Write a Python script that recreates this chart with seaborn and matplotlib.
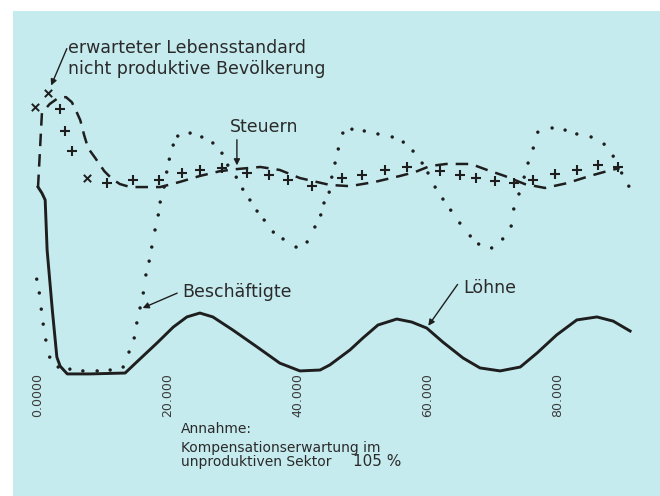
import matplotlib
matplotlib.use('Agg')
import matplotlib.pyplot as plt
import seaborn as sns

# Löhne (solid line)
loehne_x = [0.0, 0.6, 1.1, 1.4, 2.2, 2.9, 3.4, 4.5, 8.0, 13.4, 15.2, 18.3, 20.8, 22.9, 24.9, 26.9,
            30.0, 33.7, 37.2, 40.3, 43.4, 44.9, 48.0, 50.0, 52.3, 55.2, 57.5, 59.8, 62.3, 65.4, 68.0, 71.1,
            74.2, 76.8, 79.8, 82.9, 86.0, 88.5, 91.1]
loehne_y = [71.0, 69.0, 66.7, 50.0, 30.0, 14.3, 11.3, 8.7, 8.7, 9.0, 12.7, 19.0, 24.3, 27.7, 29.0, 27.7,
            23.3, 17.7, 12.3, 9.7, 10.0, 11.7, 16.7, 20.7, 25.0, 27.0, 26.0, 24.0, 19.3, 14.0, 10.7, 9.7,
            11.0, 15.7, 21.7, 26.7, 27.7, 26.3, 23.0]

# nicht produktive Bevölkerung (dashed line)
bev_x = [0.0, 0.3, 0.6, 1.8, 3.1, 4.3, 5.2, 5.8, 6.5, 7.1, 7.7, 8.8, 10.2, 11.4, 12.6, 14.2,
         18.8, 21.8, 24.9, 28.0, 30.6, 34.2, 37.2, 40.3, 44.9, 48.0, 51.8, 55.7, 58.0, 60.3, 62.8, 66.6,
         69.1, 71.8, 74.9, 78.0, 81.4, 84.9, 88.2, 89.5]
bev_y = [71.0, 83.3, 95.7, 98.7, 100.7, 101.0, 99.3, 96.7, 93.3, 88.3, 84.0, 80.7, 76.3, 73.7, 72.0, 71.0,
         71.0, 72.7, 74.7, 76.3, 77.0, 77.7, 76.7, 74.0, 71.7, 71.3, 72.7, 74.7, 76.0, 78.0, 78.7, 78.7,
         76.7, 74.7, 72.0, 70.7, 72.3, 74.7, 76.7, 77.3]

# Steuern (+ markers)
steuern_x = [3.4, 4.2, 5.2, 10.6, 14.6, 18.6, 22.2, 24.9, 28.3, 32.2, 35.5, 38.5, 42.2, 46.8,
             49.8, 53.4, 56.8, 61.8, 64.9, 67.4, 70.3, 73.2, 76.2, 79.5, 82.9, 86.2, 89.2]
steuern_y = [97.0, 89.7, 83.0, 72.3, 73.3, 73.3, 75.7, 76.7, 77.3, 75.7, 75.0, 73.3, 71.3, 74.0,
             75.0, 76.7, 77.7, 76.3, 75.0, 74.0, 73.0, 72.3, 73.3, 75.3, 76.7, 78.3, 77.7]

# erwarteter Lebensstandard (x markers, visible points only)
leben_x = [-0.5, 1.5, 7.5]
leben_y = [97.7, 102.3, 74.0]

# Beschäftigte (dots)
besch_x = [-0.2, 0.2, 0.5, 0.8, 1.2, 1.8, 3.1, 4.9, 6.9, 9.1,
           11.1, 13.1, 14.0, 14.8, 15.2, 15.7, 16.2, 16.6, 17.1, 17.5,
           18.0, 18.5, 18.8, 19.4, 19.8, 20.2, 20.8, 21.5, 23.4, 25.2,
           26.9, 28.3, 29.2, 30.5, 31.5, 32.6, 33.7, 34.8, 36.2, 37.7,
           39.7, 41.4, 42.6, 43.5, 44.0, 44.8, 45.2, 45.7, 46.2, 46.9,
           48.3, 50.2, 52.3, 54.5, 56.2, 57.7, 59.1, 60.0, 61.1, 62.3,
           63.5, 64.9, 66.5, 67.8, 69.8, 71.5, 72.8, 73.2, 74.0, 74.8,
           75.4, 76.2, 76.9, 79.1, 81.1, 82.9, 85.1, 87.1, 88.5, 89.8,
           90.9]
besch_y = [40.3, 35.7, 30.3, 25.3, 20.0, 14.3, 11.0, 10.3, 9.7, 9.7,
           10.0, 11.0, 16.0, 20.7, 25.7, 30.7, 35.7, 41.7, 46.3, 51.0,
           56.7, 61.7, 66.0, 71.0, 76.0, 80.3, 85.0, 88.0, 89.0, 87.7,
           85.7, 82.3, 78.3, 74.3, 70.3, 66.7, 63.0, 60.0, 56.0, 53.7,
           51.0, 52.7, 57.7, 61.7, 65.7, 69.3, 74.3, 79.0, 83.7, 89.0,
           90.3, 89.7, 88.7, 87.7, 86.0, 83.0, 79.0, 75.7, 71.0, 67.0,
           63.3, 59.0, 54.7, 52.0, 50.7, 53.7, 58.0, 63.7, 68.7, 74.3,
           79.0, 84.0, 89.3, 90.7, 90.0, 88.7, 87.7, 85.3, 81.3, 75.7,
           71.3]

tick_values = [0, 20, 40, 60, 80]
tick_labels = ["0.0000", "20.000", "40.000", "60.000", "80.000"]

ink = '#1e1e1e'
paper = '#c6ebee'

fig = plt.figure(figsize=(6.6, 4.96), dpi=100, facecolor='white')
ax = fig.add_axes([13 / 660, 0, 647 / 660, 485 / 496])
ax.set_facecolor(paper)

sns.lineplot(x=loehne_x, y=loehne_y, ax=ax, color=ink, linewidth=2.1,
             sort=False, estimator=None)
sns.lineplot(x=bev_x, y=bev_y, ax=ax, color=ink, linewidth=1.8,
             linestyle=(0, (5, 3.2)), sort=False, estimator=None)
sns.scatterplot(x=besch_x, y=besch_y, ax=ax, color=ink, s=6, marker='o',
                edgecolor='none')
sns.scatterplot(x=steuern_x, y=steuern_y, ax=ax, color=ink, s=45, marker='+',
                linewidth=1.5)
sns.scatterplot(x=leben_x, y=leben_y, ax=ax, color=ink, s=28, marker='x',
                linewidth=1.4)

ax.set_xlim(-3.85, 95.7)
ax.set_ylim(-32, 129.7)
for s in ax.spines.values():
    s.set_visible(False)
ax.set_yticks([])
ax.set_xticks(tick_values)
ax.set_xticklabels(tick_labels, rotation=90, fontsize=9, color='#3a3a3a')
ax.tick_params(axis='x', length=0, pad=-88.6)

txt = dict(color='#2a2a2a', fontsize=12.5, va='baseline', ha='left')
ax.text(4.6, 115.7, "erwarteter Lebensstandard", **txt)
ax.text(4.6, 108.7, "nicht produktive Bevölkerung", **txt)
ax.text(29.5, 89.3, "Steuern", **txt)
ax.text(22.2, 34.3, "Beschäftigte", **txt)
ax.text(65.4, 35.7, "Löhne", **txt)

small = dict(color='#2a2a2a', fontsize=10, va='baseline', ha='left')
ax.text(22.0, -11.0, "Annahme:", **small)
ax.text(22.0, -17.3, "Kompensationserwartung im", **small)
ax.text(22.0, -22.0, "unproduktiven Sektor", **small)
ax.text(48.5, -22.0, "105 %", color='#2a2a2a', fontsize=11, va='baseline', ha='left')

arrow = dict(arrowstyle='-|>', color=ink, lw=1.0, mutation_scale=9)
ax.annotate('', xy=(1.85, 104.0), xytext=(4.6, 118.0), arrowprops=arrow)
ax.annotate('', xy=(30.6, 77.3), xytext=(30.6, 87.7), arrowprops=arrow)
ax.annotate('', xy=(15.7, 30.3), xytext=(21.8, 36.0), arrowprops=arrow)
ax.annotate('', xy=(59.8, 24.0), xytext=(64.8, 39.3), arrowprops=arrow)

fig.savefig('out.png', dpi=100, facecolor='white')
